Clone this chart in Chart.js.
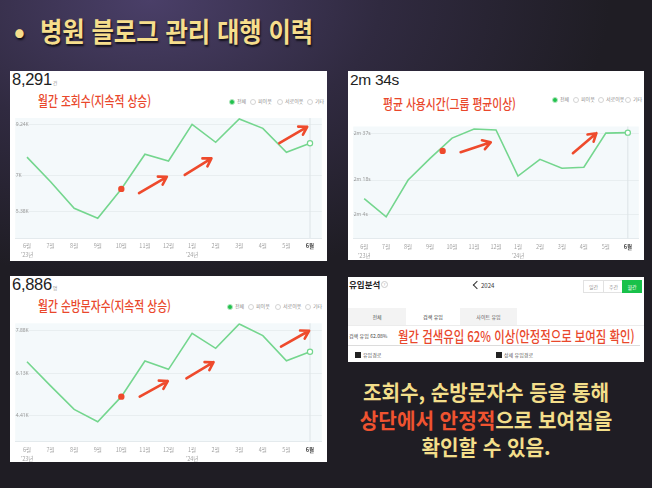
<!DOCTYPE html>
<html lang="ko">
<head>
<meta charset="UTF-8">
<title>병원 블로그 관리 대행 이력</title>
<script src="https://cdn.jsdelivr.net/npm/chart.js"></script>
<style>
  body { margin: 0; width: 652px; height: 488px; overflow: hidden; position: relative;
         background: radial-gradient(ellipse 460px 280px at 150px 0px, #4a3f68 0%, #302a40 50%, #1f1d24 100%);
         font-family: "Noto Sans CJK KR", "Noto Sans", sans-serif; }
  .title { position: absolute; left: 14px; top: 11px; color: #f6de8c; font-size: 27px; font-weight: 700;
           white-space: nowrap; text-shadow: 1px 2px 2px rgba(0,0,0,.7); }
  .title b { display: inline-block; width: 26px; }
  .title span { display: inline-block; transform: scaleX(0.9); transform-origin: left center; }
  .panel { position: absolute; background: #fff; overflow: hidden; }
  .big { position: absolute; left: 2px; top: -1px; font-family: "Liberation Sans", Arial, sans-serif;
         font-size: 16.5px; color: #222; letter-spacing: -0.3px; }
  .big small { font-family: "Noto Sans CJK KR"; font-size: 5px; color: #999; margin-left: 1px; }
  .red { position: absolute; color: #e9472b; font-size: 13.5px; font-weight: 500; white-space: nowrap; line-height: 1;
         transform: scaleX(0.8); transform-origin: left center; }
  .legend { position: absolute; font-size: 5px; color: #888; white-space: nowrap; line-height: 6px; }
  .legend i { display: inline-block; width: 4px; height: 4px; border: 1px solid #d4d4d4; border-radius: 50%;
              vertical-align: middle; margin-right: 2px; }
  .legend i.on { background: #1fc24b; border-color: #b5e6c1; }
  .legend em { font-style: normal; display: inline-block; }
  canvas { position: absolute; left: 0; }
  .p4 div { position: absolute; }
  .note { position: absolute; left: 330px; top: 378px; width: 312px; text-align: center; color: #f3de8a;
          font-size: 21px; font-weight: 700; line-height: 27.5px; white-space: nowrap; }
  .note div { transform: scaleX(0.96); }
  .note .hl { color: #ef5330; }
</style>
</head>
<body>
<div class="title"><b>•</b><span>병원 블로그 관리 대행 이력</span></div>

<div class="panel" style="left:10px;top:71px;width:317px;height:190px;">
  <div class="big">8,291<small>건</small></div>
  <div class="red" style="left:28px;top:23px;">월간 조회수(지속적 상승)</div>
  <div class="legend" style="left:219px;top:27px;">
    <em style="width:21px"><i class="on"></i>전체</em><em style="width:27px"><i></i>피이웃</em><em style="width:30px"><i></i>서로이웃</em><em><i></i>기타</em>
  </div>
  <canvas id="c1" width="317" height="150" style="top:41px"></canvas>
</div>

<div class="panel" style="left:348px;top:71px;width:296px;height:189px;">
  <div class="big" style="font-size:15.5px;top:0px">2m 34s</div>
  <div class="red" style="left:35px;top:26px;">평균 사용시간(그룹 평균이상)</div>
  <div class="legend" style="left:204px;top:25px;">
    <em style="width:21px"><i class="on"></i>전체</em><em style="width:25px"><i></i>피이웃</em><em style="width:27px"><i></i>서로이웃</em><em><i></i>기타</em>
  </div>
  <canvas id="c2" width="296" height="142" style="top:49px"></canvas>
</div>

<div class="panel" style="left:10px;top:276px;width:317px;height:186px;">
  <div class="big">6,886<small>명</small></div>
  <div class="red" style="left:28px;top:23px;">월간 순방문자수(지속적 상승)</div>
  <div class="legend" style="left:217px;top:27px;">
    <em style="width:21px"><i class="on"></i>전체</em><em style="width:27px"><i></i>피이웃</em><em style="width:30px"><i></i>서로이웃</em><em><i></i>기타</em>
  </div>
  <canvas id="c3" width="317" height="146" style="top:40px"></canvas>
</div>

<div class="panel p4" style="left:348px;top:277px;width:296px;height:85px;font-size:5px;color:#555;">
  <div style="left:1px;top:1px;font-size:8.5px;font-weight:700;color:#222;">유입분석</div>
  <div style="left:33px;top:4px;width:5px;height:5px;border:1px solid #ccc;border-radius:50%;font-size:4px;line-height:5px;text-align:center;color:#aaa;">?</div>
  <div style="left:126px;top:5px;width:5px;height:5px;border-left:1px solid #333;border-bottom:1px solid #333;transform:rotate(45deg);"></div>
  <div style="left:133px;top:4px;font-size:6px;color:#333;">2024</div>
  <div style="left:235px;top:3px;width:19px;height:11px;border:1px solid #e2e2e2;line-height:11px;text-align:center;color:#999;">일간</div>
  <div style="left:255px;top:3px;width:19px;height:11px;border:1px solid #e2e2e2;line-height:11px;text-align:center;color:#999;">주간</div>
  <div style="left:274px;top:3px;width:20px;height:13px;background:#18c14a;line-height:13px;text-align:center;color:#fff;">월간</div>
  <div style="left:0;top:31px;width:58px;height:17px;background:#f3f3f3;line-height:17px;text-align:center;">전체</div>
  <div style="left:58px;top:31px;width:54px;height:17px;background:#fff;line-height:17px;text-align:center;color:#333;">검색 유입</div>
  <div style="left:112px;top:31px;width:57px;height:17px;background:#f3f3f3;line-height:17px;text-align:center;">사이트 유입</div>
  <div style="left:0;top:48px;width:296px;height:0;border-top:1px solid #ececec;"></div>
  <div style="left:1px;top:55px;color:#444;">검색 유입 62.08%</div>
  <div style="left:50px;top:48px;font-size:15px;font-weight:500;color:#e9472b;white-space:nowrap;transform:scaleX(0.76);transform-origin:left center;">월간 검색유입 62% 이상(안정적으로 보여짐 확인)</div>
  <div style="left:0;top:68px;width:292px;height:0;border-top:1px solid #dcdcdc;"></div>
  <div style="left:7px;top:75px;width:6px;height:6px;background:#222;"></div>
  <div style="left:15px;top:75px;line-height:6px;">유입경로</div>
  <div style="left:148px;top:75px;width:6px;height:6px;background:#222;"></div>
  <div style="left:156px;top:75px;line-height:6px;">상세 유입경로</div>
</div>

<div class="note">
  <div>조회수, 순방문자수 등을 통해</div>
  <div><span class="hl">상단에서 안정적</span>으로 보여짐을</div>
  <div>확인할 수 있음.</div>
</div>

<script>
const months = ['6월', '7월', '8월', '9월', '10월', '11월', '12월', '1월', '2월', '3월', '4월', '5월', '6월'];
const yearTags = ["'23년", '', '', '', '', '', '', "'24년", '', '', '', '', ''];

// 월간 조회수
const views = [7810, 6720, 5540, 5100, 6400, 7940, 7640, 9270, 8470, 9510, 9090, 8030, 8430];
const viewTicks = [5380, 7000, 9240];
const viewTickLabels = ['5.38K', '7K', '9.24K'];
const viewArrows = [[4.75, 6210, 5.93, 6940], [6.69, 7020, 7.82, 7760], [10.7, 8430, 11.88, 9160]];
const viewDots = [[4, 6400]];

// 평균 사용시간 (초)
const stayTime = [130.5, 123.1, 138, 146.8, 155, 158.7, 158.3, 139.6, 146.4, 142.8, 143.2, 157, 157.2];
const stayTicks = [124, 138, 157];
const stayTickLabels = ['2m 4s', '2m 18s', '2m 37s'];
const stayArrows = [[4.39, 149.3, 5.76, 153.3], [9.5, 148.9, 10.57, 157]];
const stayDots = [[3.57, 149.8]];

// 월간 순방문자수
const visitors = [6620, 5630, 4670, 4160, 5190, 6650, 6310, 7780, 7170, 8170, 7690, 6660, 7030];
const visitorTicks = [4410, 6130, 7880];
const visitorTickLabels = ['4.41K', '6.13K', '7.88K'];
const visitorArrows = [[4.78, 5190, 5.97, 5830], [6.76, 5940, 7.91, 6600], [10.77, 7240, 11.96, 7890]];
const visitorDots = [[4, 5190]];

const xLabels = months.map((m, i) => yearTags[i] ? [m, yearTags[i]] : m);
const last = months.length - 1;

const marks = {
  id: 'marks',
  beforeDraw(chart) {
    const a = chart.chartArea, c = chart.ctx;
    c.save();
    c.fillStyle = '#f4f9fb';
    c.fillRect(a.left, a.top, a.right - a.left, a.bottom - a.top);
    c.restore();
  },
  beforeDatasetsDraw(chart) {
    const a = chart.chartArea, c = chart.ctx;
    const x = chart.scales.x.getPixelForValue(last);
    c.save();
    c.strokeStyle = '#dce3e6';
    c.lineWidth = 1;
    c.beginPath(); c.moveTo(x, a.top); c.lineTo(x, a.bottom); c.stroke();
    c.restore();
  },
  afterDatasetsDraw(chart, args, opts) {
    const sx = chart.scales.x, sy = chart.scales.y, c = chart.ctx;
    c.save();
    c.strokeStyle = '#ee4a2c';
    c.fillStyle = '#ee4a2c';
    c.lineWidth = 2.6;
    c.lineCap = 'round';
    c.lineJoin = 'round';
    (opts.arrows || []).forEach(a => {
      const x0 = sx.getPixelForValue(a[0]), y0 = sy.getPixelForValue(a[1]);
      const x1 = sx.getPixelForValue(a[2]), y1 = sy.getPixelForValue(a[3]);
      const ang = Math.atan2(y1 - y0, x1 - x0), h = 9;
      c.beginPath();
      c.moveTo(x0, y0); c.lineTo(x1, y1);
      c.moveTo(x1 - h * Math.cos(ang - 0.55), y1 - h * Math.sin(ang - 0.55));
      c.lineTo(x1, y1);
      c.lineTo(x1 - h * Math.cos(ang + 0.55), y1 - h * Math.sin(ang + 0.55));
      c.stroke();
    });
    (opts.dots || []).forEach(d => {
      c.beginPath();
      c.arc(sx.getPixelForValue(d[0]), sy.getPixelForValue(d[1]), 3.2, 0, Math.PI * 2);
      c.fill();
    });
    c.restore();
  }
};

function makeChart(id, values, ticks, tickLabels, min, max, arrows, dots, pad, axisH) {
  new Chart(document.getElementById(id), {
    type: 'line',
    data: {
      labels: xLabels,
      datasets: [{
        data: values,
        borderColor: '#74d68e',
        borderWidth: 1.6,
        tension: 0,
        fill: false,
        pointRadius: ctx => ctx.dataIndex === last ? 2.6 : 0,
        pointBackgroundColor: '#fff',
        pointBorderColor: '#74d68e',
        pointBorderWidth: 1.2
      }]
    },
    options: {
      responsive: false,
      animation: false,
      events: [],
      layout: { padding: pad },
      plugins: { legend: { display: false }, tooltip: { enabled: false }, marks: { arrows, dots } },
      scales: {
        x: {
          offset: true,
          grid: { display: false, drawTicks: false },
          border: { color: '#e4eaed' },
          ticks: {
            autoSkip: false, maxRotation: 0, padding: 4,
            color: ctx => ctx.index === last ? '#444' : '#a3a3a3',
            font: ctx => ({ size: 5.5, lineHeight: 1.6, family: 'Noto Sans CJK KR', weight: ctx.index === last ? 'bold' : 'normal' })
          },
          afterFit(s) { s.height = axisH; s.paddingLeft = 0; s.paddingRight = 0; }
        },
        y: {
          min, max,
          border: { display: false },
          grid: { color: '#e4ebee', lineWidth: 0.8, drawTicks: false },
          afterBuildTicks(s) { s.ticks = ticks.map(v => ({ value: v })); },
          ticks: {
            mirror: true, padding: 0.5, color: '#9a9a9a',
            font: { size: 5, family: 'Noto Sans' },
            callback: (v, i) => tickLabels[i]
          },
          afterFit(s) { s.width = 0; s.paddingTop = 0; s.paddingBottom = 0; }
        }
      }
    },
    plugins: [marks]
  });
}

makeChart('c1', views, viewTicks, viewTickLabels, 4220, 9550, viewArrows, viewDots,
  { left: 2, right: 2, top: 6, bottom: 0 }, 24);
makeChart('c2', stayTime, stayTicks, stayTickLabels, 114.3, 159.7, stayArrows, stayDots,
  { left: 2.4, right: 0.5, top: 6.5, bottom: 0 }, 23.5);
makeChart('c3', visitors, visitorTicks, visitorTickLabels, 3345, 8195, visitorArrows, visitorDots,
  { left: 2, right: 4, top: 7.3, bottom: 0 }, 20.3);
</script>
</body>
</html>
